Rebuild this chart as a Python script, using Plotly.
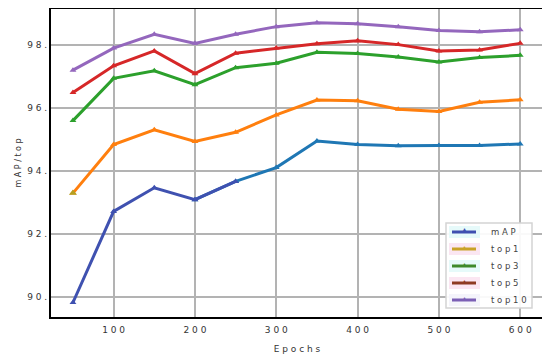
import plotly.graph_objects as go

epochs = [50, 100, 150, 200, 250, 300, 350, 400, 450, 500, 550, 600]
mAP   = [89.83, 92.72, 93.47, 93.09, 93.67, 94.11, 94.95, 94.84, 94.80, 94.81, 94.81, 94.86]
top1  = [93.30, 94.84, 95.31, 94.94, 95.23, 95.78, 96.25, 96.23, 95.96, 95.89, 96.18, 96.26]
top3  = [95.60, 96.94, 97.18, 96.74, 97.28, 97.42, 97.77, 97.73, 97.62, 97.46, 97.60, 97.67]
top5  = [96.49, 97.34, 97.81, 97.09, 97.74, 97.90, 98.04, 98.13, 98.01, 97.81, 97.84, 98.05]
top10 = [97.20, 97.90, 98.34, 98.05, 98.34, 98.58, 98.70, 98.67, 98.58, 98.46, 98.42, 98.48]

x_ticks = [100, 200, 300, 400, 500, 600]
x_ticktext = ["1 0 0", "2 0 0", "3 0 0", "4 0 0", "5 0 0", "6 0 0"]
y_ticks = [90, 92, 94, 96, 98]
y_ticktext = ["9 0 .", "9 2 .", "9 4 .", "9 6 .", "9 8 ."]

names = ["m A P", "t o p 1", "t o p 3", "t o p 5", "t o p 1 0"]
line_colors = ["#1f77b4", "#ff7f0e", "#2ca02c", "#d62728", "#9467bd"]
legend_colors = ["#3f4fb0", "#c9a227", "#3e8a2a", "#8e3a22", "#7b5fb5"]
legend_tints = ["#e6fafa", "#fbe6f2", "#e6fafa", "#fbe6f2", "#f4f4fb"]
series = [mAP, top1, top3, top5, top10]

fig = go.Figure()

# mAP: first part drawn in indigo, later part in blue (as in the reference)
fig.add_trace(go.Scatter(x=epochs[3:], y=mAP[3:], mode="lines+markers", name="mAP",
                         line=dict(color="#1f77b4", width=3),
                         marker=dict(symbol="triangle-up", size=6),
                         showlegend=False))
fig.add_trace(go.Scatter(x=epochs[:5], y=mAP[:5], mode="lines+markers", name="mAP",
                         line=dict(color="#3f51b0", width=3),
                         marker=dict(symbol="triangle-up", size=6),
                         showlegend=False))
for s, c, n in zip(series[1:], line_colors[1:], names[1:]):
    fig.add_trace(go.Scatter(x=epochs, y=s, mode="lines+markers", name=n.replace(" ", ""),
                             line=dict(color=c, width=3),
                             marker=dict(symbol="triangle-up", size=6),
                             showlegend=False))
# first top1 marker olive-ish
fig.add_trace(go.Scatter(x=epochs[:1], y=top1[:1], mode="markers",
                         marker=dict(symbol="triangle-up", size=7, color="#b5a020"),
                         showlegend=False, hoverinfo="skip"))

# plot area in screen pixels (page body has an 8px offset)
OFF = 8
L, R, T, B = 51, 543, 9, 317
def px(xp):
    return (xp - L) / (R - L)
def py(yp):
    return (B - yp) / (B - T)

shapes = [dict(type="rect", xref="paper", yref="paper",
               x0=px(446), x1=px(532), y0=py(308), y1=py(223),
               fillcolor="rgba(255,255,255,0.92)", line=dict(color="#d4d4d4", width=1.5))]
annotations = []
for i, (n, c, t) in enumerate(zip(names, legend_colors, legend_tints)):
    yc = 232 + 17 * i
    shapes.append(dict(type="rect", xref="paper", yref="paper",
                       x0=px(449), x1=px(480), y0=py(yc + 6), y1=py(yc - 6),
                       fillcolor=t, line=dict(width=0)))
    shapes.append(dict(type="line", xref="paper", yref="paper",
                       x0=px(452), x1=px(476), y0=py(yc), y1=py(yc),
                       line=dict(color=c, width=3)))
    annotations.append(dict(xref="paper", yref="paper", x=px(464), y=py(yc - 2),
                            text="▲", showarrow=False, font=dict(size=7, color=c),
                            xanchor="center", yanchor="middle"))
    annotations.append(dict(xref="paper", yref="paper", x=px(489), y=py(yc),
                            text=n, showarrow=False,
                            font=dict(family="DejaVu Sans", size=8.5, color="#444444"),
                            xanchor="left", yanchor="middle"))

axis_font = dict(family="DejaVu Sans", size=9, color="#333333")
fig.update_layout(
    width=550, height=359,
    margin=dict(l=L - OFF, r=550 - (R - OFF), t=T - OFF, b=359 - (B - OFF)),
    paper_bgcolor="white", plot_bgcolor="white",
    showlegend=False,
    shapes=shapes, annotations=annotations,
    xaxis=dict(range=[23, 628], tickvals=x_ticks, ticktext=x_ticktext,
               showgrid=True, gridcolor="#b3b3b3", gridwidth=1.5,
               showline=True, linecolor="black", linewidth=2, mirror=True,
               ticks="", tickfont=axis_font, zeroline=False, automargin=False,
               ticklabelstandoff=3,
               title=dict(text="E p o c h s", font=axis_font, standoff=12)),
    yaxis=dict(range=[89.37, 99.14], tickvals=y_ticks, ticktext=y_ticktext,
               showgrid=True, gridcolor="#b3b3b3", gridwidth=1.5,
               showline=True, linecolor="black", linewidth=2, mirror=True,
               ticks="", tickfont=axis_font, zeroline=False, automargin=False,
               title=dict(text="m A P / t o p", font=dict(family="DejaVu Sans", size=8, color="#333333"), standoff=4)),
)

fig.write_html("out.html")
